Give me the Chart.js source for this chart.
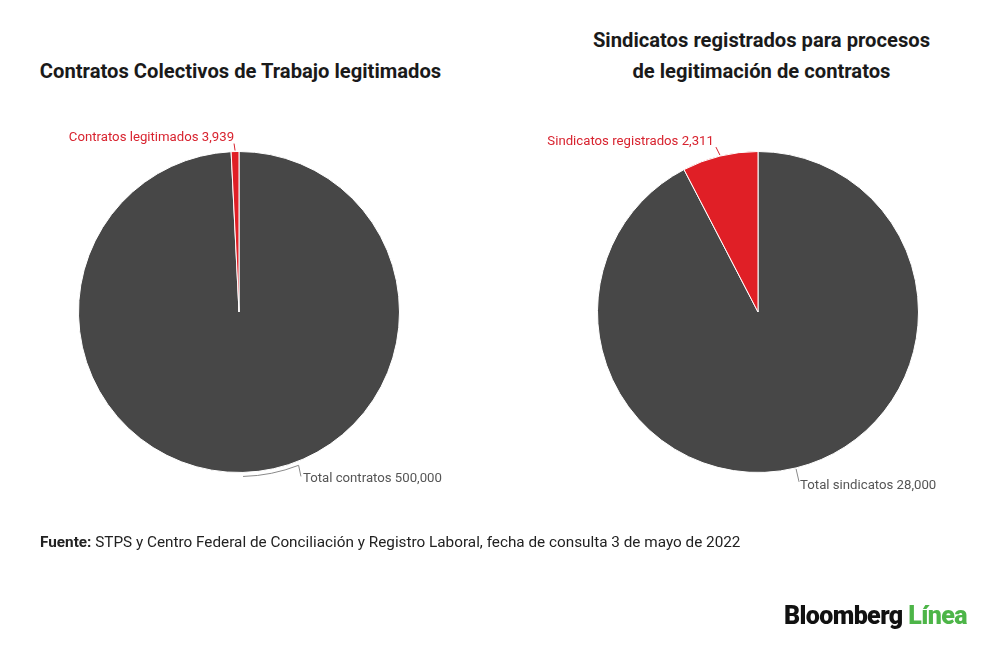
<!DOCTYPE html>
<html>
<head>
<meta charset="utf-8">
<script src="https://cdn.jsdelivr.net/npm/chart.js"></script>
<style>
  html, body { margin: 0; padding: 0; background: #fff; }
  body { width: 1000px; height: 647px; position: relative; overflow: hidden; font-family: Roboto, "Noto Sans", sans-serif; }
  .title { position: absolute; font-weight: bold; font-size: 20.2px; color: #1a1a1a; text-align: center; line-height: 31px; }
  canvas { position: absolute; top: 0; }
  .fuente { position: absolute; left: 40px; top: 533px; font-size: 15.3px; color: #222; }
  .logo { position: absolute; left: 784px; top: 601px; font-size: 25px; font-weight: 900; letter-spacing: -0.6px; color: #111; }
  .logo span { color: #4db548; }
</style>
</head>
<body>
<div class="title" style="left:0;width:481px;top:56px;">Contratos Colectivos de Trabajo legitimados</div>
<div class="title" style="left:520px;width:483px;top:25px;">Sindicatos registrados para procesos<br>de legitimación de contratos</div>
<canvas id="c1" width="500" height="647" style="left:0;width:500px;height:647px;"></canvas>
<canvas id="c2" width="500" height="647" style="left:500px;width:500px;height:647px;"></canvas>
<div class="fuente"><b>Fuente:</b> STPS y Centro Federal de Conciliación y Registro Laboral, fecha de consulta 3 de mayo de 2022</div>
<div class="logo">Bloomberg <span>Línea</span></div>
<script>
// Datos del gráfico
const contratosLabels = ['Total contratos', 'Contratos legitimados'];
const contratosValues = [500000, 3939];
const sindicatosLabels = ['Total sindicatos', 'Sindicatos registrados'];
const sindicatosValues = [28000, 2311];
const sliceColors = ['#474747', '#e01f26'];
const labelColors = ['#555555', '#d8232f'];

function fmt(v) { return v.toLocaleString('en-US'); }

// plugin pour dessiner les étiquettes avec lignes de rappel
const leaderLabels = {
  id: 'leaderLabels',
  afterDatasetsDraw(chart, args, opts) {
    const ctx = chart.ctx;
    const meta = chart.getDatasetMeta(0);
    const ds = chart.data.datasets[0];
    ctx.save();
    ctx.font = '13.2px Roboto, sans-serif';
    ctx.textBaseline = 'middle';
    meta.data.forEach((arc, i) => {
      const mid = (arc.startAngle + arc.endAngle) / 2;
      const r = arc.outerRadius;
      const px = arc.x + Math.cos(mid) * r;
      const py = arc.y + Math.sin(mid) * r;
      const text = chart.data.labels[i] + ' ' + fmt(ds.data[i]);
      const o = opts.offsets[i];
      ctx.strokeStyle = i === 0 ? '#8a8a8a' : labelColors[1];
      ctx.lineWidth = 1;
      ctx.beginPath();
      if (o.curve) {
        // ligne courbe qui suit le bord du camembert
        const rr = r + 4;
        ctx.arc(arc.x, arc.y, rr, mid, o.curve, true);
        ctx.lineTo(px + o.dx - 2, py + o.dy - 2);
      } else {
        ctx.moveTo(px, py + (i === 0 ? 1 : -1));
        ctx.lineTo(px + o.lx, py + o.ly);
      }
      ctx.stroke();
      ctx.fillStyle = labelColors[i];
      ctx.textAlign = o.align;
      ctx.fillText(text, px + o.dx, py + o.dy);
    });
    ctx.restore();
  }
};

function makePie(id, labels, values, pad, offsets) {
  new Chart(document.getElementById(id), {
    type: 'pie',
    data: {
      labels: labels,
      datasets: [{ data: values, backgroundColor: sliceColors, borderColor: '#ffffff', borderWidth: 1 }]
    },
    options: {
      responsive: false,
      animation: false,
      layout: { padding: pad },
      plugins: { legend: { display: false }, tooltip: { enabled: false }, leaderLabels: { offsets: offsets } }
    },
    plugins: [leaderLabels]
  });
}

makePie('c1', contratosLabels, contratosValues,
  { left: 78, right: 100, top: 151, bottom: 174 },
  [ { align: 'left', dx: 60, dy: 6, curve: 1.2 },
    { align: 'right', dx: -1, dy: -14, lx: -1, ly: -8 } ]);

makePie('c2', sindicatosLabels, sindicatosValues,
  { left: 97, right: 81, top: 151, bottom: 174 },
  [ { align: 'left', dx: 4, dy: 18, lx: 3, ly: 14 },
    { align: 'right', dx: -6, dy: -14, lx: -4, ly: -9 } ]);
</script>
</body>
</html>
